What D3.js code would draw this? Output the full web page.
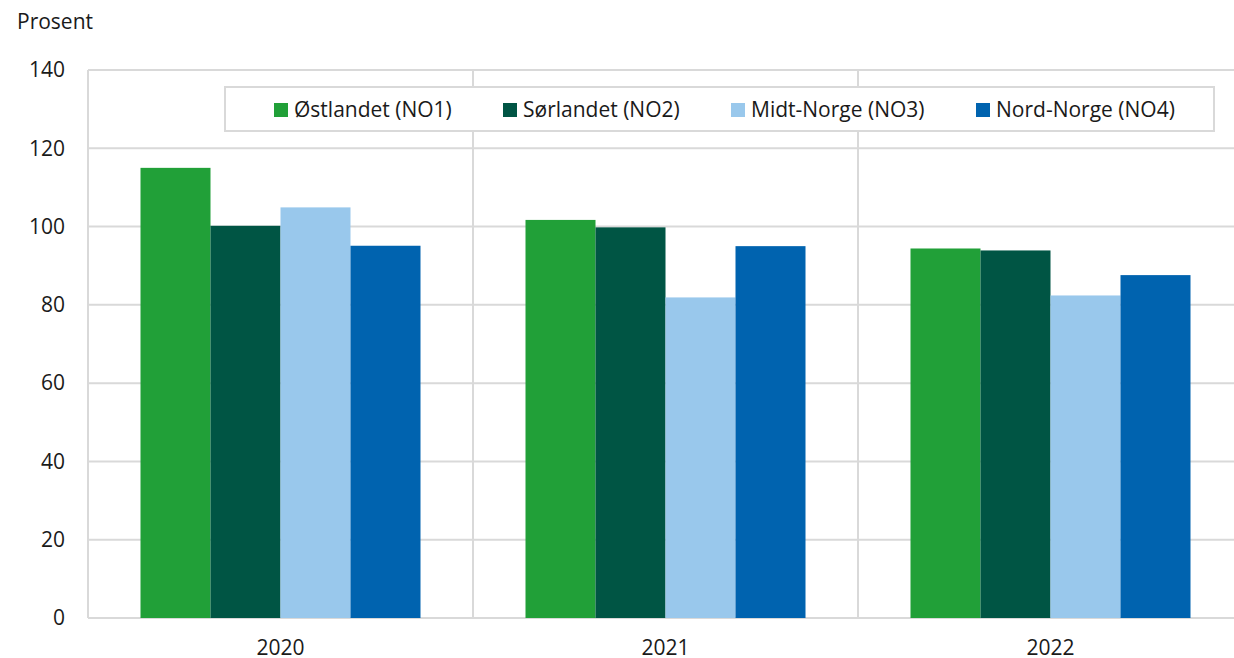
<!DOCTYPE html>
<html>
<head>
<meta charset="utf-8">
<script src="https://cdn.jsdelivr.net/npm/d3@7"></script>
<style>
  body { margin: 0; background: #fff; }
  svg { display: block; font-family: "Open Sans", "Noto Sans", sans-serif; }
</style>
</head>
<body>
<div id="chart"></div>
<script>
// Data
const years = ['2020', '2021', '2022'];
const regions = ['Østlandet (NO1)', 'Sørlandet (NO2)', 'Midt-Norge (NO3)', 'Nord-Norge (NO4)'];
const ostlandet = [115, 101.7, 94.4];
const sorlandet = [100.2, 99.8, 93.9];
const midtNorge = [104.9, 81.9, 82.4];
const nordNorge = [95.1, 95.0, 87.6];
const yTicks = [0, 20, 40, 60, 80, 100, 120, 140];
const colors = ['#21a038', '#005544', '#99c8ec', '#0063af'];

const series = [ostlandet, sorlandet, midtNorge, nordNorge];

const width = 1234, height = 658;
const margin = {top: 70, right: -9, bottom: 40, left: 88};

const svg = d3.select('#chart')
    .append('svg')
    .attr('width', width)
    .attr('height', height);

const x = d3.scaleBand()
    .domain(years)
    .range([margin.left, width - margin.right])
    .paddingInner(0)
    .paddingOuter(0);

const x1 = d3.scaleBand()
    .domain(d3.range(regions.length))
    .range([0, x.bandwidth()])
    .paddingInner(0)
    .paddingOuter(0.75);

const y = d3.scaleLinear()
    .domain([0, 140])
    .range([height - margin.bottom, margin.top]);

// Horizontal gridlines
svg.append('g')
    .selectAll('line')
    .data(yTicks)
    .join('line')
    .attr('x1', margin.left)
    .attr('x2', width - margin.right)
    .attr('y1', d => y(d))
    .attr('y2', d => y(d))
    .attr('stroke', '#d9d9d9')
    .attr('stroke-width', 2);

// Vertical separators between categories
svg.append('g')
    .selectAll('line')
    .data(years)
    .join('line')
    .attr('x1', d => x(d))
    .attr('x2', d => x(d))
    .attr('y1', y(140))
    .attr('y2', y(0))
    .attr('stroke', '#d9d9d9')
    .attr('stroke-width', 2);

// Y tick labels
svg.append('g')
    .selectAll('text')
    .data(yTicks)
    .join('text')
    .attr('x', 65)
    .attr('y', d => y(d))
    .attr('dy', '0.35em')
    .attr('text-anchor', 'end')
    .attr('font-size', 21)
    .attr('fill', '#1a1a1a')
    .text(d => d);

svg.append('text')
    .attr('x', 17)
    .attr('y', 29)
    .attr('font-size', 21)
    .attr('fill', '#1a1a1a')
    .text('Prosent');

// Bars
const groups = svg.append('g')
    .selectAll('g')
    .data(years)
    .join('g')
    .attr('transform', d => `translate(${x(d)},0)`);

groups.selectAll('rect')
    .data((d, i) => series.map((s, k) => ({k: k, v: s[i]})))
    .join('rect')
    .attr('x', d => x1(d.k))
    .attr('width', x1.bandwidth())
    .attr('y', d => y(d.v))
    .attr('height', d => y(0) - y(d.v))
    .attr('fill', d => colors[d.k]);

// X labels
svg.append('g')
    .selectAll('text')
    .data(years)
    .join('text')
    .attr('x', d => x(d) + x.bandwidth() / 2)
    .attr('y', 655)
    .attr('text-anchor', 'middle')
    .attr('font-size', 21)
    .attr('fill', '#1a1a1a')
    .text(d => d);

// Legend
const legendX = [274, 503, 731, 976];
svg.append('rect')
    .attr('x', 225)
    .attr('y', 87)
    .attr('width', 989)
    .attr('height', 44)
    .attr('fill', '#fff')
    .attr('stroke', '#d9d9d9')
    .attr('stroke-width', 2);

const legend = svg.append('g')
    .selectAll('g')
    .data(regions)
    .join('g')
    .attr('transform', (d, i) => `translate(${legendX[i]},103)`);

legend.append('rect')
    .attr('width', 14)
    .attr('height', 14)
    .attr('fill', (d, i) => colors[i]);

legend.append('text')
    .attr('x', 20)
    .attr('y', 7)
    .attr('dy', '0.35em')
    .attr('font-size', 21)
    .attr('fill', '#1a1a1a')
    .text(d => d);
</script>
</body>
</html>
